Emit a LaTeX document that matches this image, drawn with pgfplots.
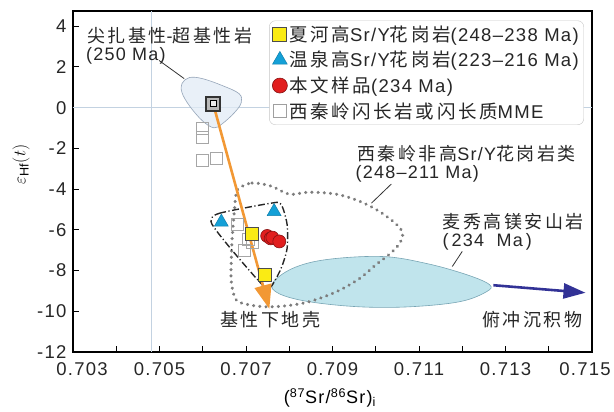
\documentclass[border=0pt]{standalone}
\usepackage{fontspec}
\setmainfont{Liberation Sans}[LetterSpace=7]
\newfontfamily\cjk{Noto Sans CJK SC}[LetterSpace=14]
\usepackage{pgfplots}
\pgfplotsset{compat=1.18}
\usetikzlibrary{arrows.meta}
\newcommand\zh[1]{{\cjk #1}}
\definecolor{myyellow}{RGB}{250,235,20}
\definecolor{myblue}{RGB}{20,160,215}
\definecolor{myred}{RGB}{225,30,30}
\definecolor{refline}{RGB}{195,210,225}
\definecolor{blobfill}{RGB}{225,235,245}
\definecolor{blobdraw}{RGB}{150,165,185}
\definecolor{mxfill}{RGB}{192,228,236}
\definecolor{mxdraw}{RGB}{120,165,180}
\definecolor{myorange}{RGB}{242,152,52}
\definecolor{navyarrow}{RGB}{50,50,150}
\definecolor{dotgray}{RGB}{125,125,125}
\begin{document}
\begin{tikzpicture}
\path[use as bounding box] (-73pt,-60pt) rectangle (541pt,352pt);
\begin{axis}[at={(0,0)}, anchor=south west, scale only axis,
  width=519pt, height=341pt,
  xmin=0.703, xmax=0.715, ymin=-12, ymax=4.75,
  clip=false,
  xtick={0.703,0.704,0.705,0.706,0.707,0.708,0.709,0.710,0.711,0.712,0.713,0.714,0.715},
  xticklabels={\kern18pt 0.703,,0.705,,0.707,,0.709,,0.711,,0.713,,0.715\kern14pt\relax},
  ytick={-12,-10,-8,-6,-4,-2,0,2,4},
  yticklabels={-12,-10,-8,-6,-4,-2,0,2,4},
  xtick pos=bottom, ytick pos=left,
  tick align=inside, major tick length=6pt,
  tick style={black, line width=1pt},
  axis line style={line width=1.6pt},
  ticklabel style={font=\fontsize{18.5}{20}\selectfont, text=black!85},
  xticklabel style={yshift=-7pt},
  yticklabel style={xshift=-3pt},
  xlabel={(\textsuperscript{87}Sr/\textsuperscript{86}Sr)\textsubscript{i}},
  ylabel={$\varepsilon_{\mathrm{Hf}}(t)$},
  xlabel style={font=\fontsize{18}{20}\selectfont, at={(axis description cs:0.495,-0.135)}, anchor=center},
  ylabel style={font=\fontsize{18}{20}\selectfont, at={(axis description cs:-0.10,0.55)}, anchor=center},
  legend style={at={(0.378,0.972)}, anchor=north west, draw=gray!45, rounded corners=6pt,
    font=\fontsize{18.5}{21}\selectfont, row sep=4.5pt, inner sep=3pt, fill=white, text=black!85},
  legend cell align=left,
]
% legend images
\addlegendimage{only marks, mark=square*, mark size=7pt, mark options={fill=myyellow, draw=gray!60!black, line width=0.8pt}}
\addlegendentry{\zh{夏河高}Sr/Y\zh{花岗岩}(248–238 Ma)}
\addlegendimage{only marks, mark=triangle*, mark size=8.5pt, mark options={fill=myblue, draw=myblue!80!black, line width=0.5pt}}
\addlegendentry{\zh{温泉高}Sr/Y\zh{花岗岩}(223–216 Ma)}
\addlegendimage{only marks, mark=*, mark size=7.5pt, mark options={fill=myred, draw=myred!60!black, line width=0.6pt}}
\addlegendentry{\zh{本文样品}(234 Ma)}
\addlegendimage{only marks, mark=square, mark size=6.5pt, mark options={draw=gray!75, line width=0.8pt}}
\addlegendentry{\zh{西秦岭闪长岩或闪长质}MME}

% reference lines
\addplot[refline, line width=0.8pt, forget plot] coordinates {(0.70481,-12) (0.70481,4.75)};
\addplot[refline, line width=0.8pt, forget plot] coordinates {(0.703,0) (0.715,0)};

% Maixiu high-Mg andesite field
\addplot[smooth cycle, tension=0.6, fill=mxfill, draw=mxdraw, line width=0.6pt, forget plot] coordinates {
 (0.70761,-8.64) (0.70807,-7.90) (0.70886,-7.46) (0.71015,-7.31) (0.71117,-7.65)
 (0.71210,-8.20) (0.71263,-8.69) (0.71256,-9.04) (0.71194,-9.53) (0.71078,-9.78)
 (0.70962,-9.78) (0.70846,-9.53) (0.70777,-9.14)};

% Jianzha field
\addplot[smooth cycle, tension=0.6, fill=blobfill, fill opacity=0.75, draw=blobdraw, line width=0.6pt, forget plot] coordinates {
 (0.70552,1.19) (0.70569,1.48) (0.70599,1.43) (0.70645,1.09) (0.70684,0.69)
 (0.70689,0.25) (0.70673,-0.25) (0.70645,-0.79) (0.70626,-0.99) (0.70599,-0.64)
 (0.70569,0.10) (0.70552,0.74)};

% dotted: West Qinling non-high Sr/Y granitoids
\addplot[smooth cycle, tension=0.55, draw=dotgray, line width=3.4pt, line cap=round, dash pattern=on 0.01pt off 6.2pt, forget plot] coordinates {
 (0.70684,-3.95) (0.70714,-3.70) (0.70758,-3.85) (0.70800,-4.25) (0.70846,-4.15)
 (0.70909,-4.25) (0.70962,-4.59) (0.71008,-5.09) (0.71048,-5.73) (0.71062,-6.17)
 (0.71055,-6.67) (0.71031,-7.21) (0.71001,-7.70) (0.70962,-8.40) (0.70909,-9.04)
 (0.70846,-9.53) (0.70793,-9.73) (0.70747,-9.78) (0.70707,-9.68) (0.70677,-9.43)
 (0.70666,-8.54) (0.70666,-7.56) (0.70668,-6.42) (0.70673,-5.09) (0.70677,-4.25)};

% dash-dot: high Sr/Y field
\addplot[smooth cycle, tension=0.45, draw=black!85, line width=1.4pt, dash pattern=on 7pt off 2.5pt on 1.2pt off 2.5pt, forget plot] coordinates {
 (0.70619,-5.58) (0.70638,-5.19) (0.70758,-4.69) (0.70781,-4.74) (0.70795,-5.73)
 (0.70795,-6.91) (0.70781,-7.90) (0.70758,-8.79) (0.70742,-8.79) (0.70684,-7.41)
 (0.70638,-6.22)};

% leader lines
\addplot[black!80, line width=0.8pt, forget plot] coordinates {(0.70499,2.32) (0.70557,1.43)};
\addplot[black!80, line width=0.8pt, forget plot] coordinates {(0.71036,-3.75) (0.70990,-4.69)};
\addplot[black!80, line width=0.8pt, forget plot] coordinates {(0.71200,-7.06) (0.71177,-7.80)};

% arrows
\addplot[myorange, line width=2.6pt, -{Triangle[length=24pt,width=17pt]}, forget plot] coordinates {(0.70624,0.2) (0.70754,-9.88)};
\addplot[navyarrow, line width=2.6pt, -{Triangle[length=22pt,width=15pt]}, forget plot] coordinates {(0.71272,-8.72) (0.71485,-9.09)};

% West Qinling diorite / MME
\addplot[only marks, mark=square, mark size=6pt, mark options={draw=gray!70, line width=0.8pt}, forget plot] coordinates {
 (0.70599,-1.04) (0.70599,-1.48) (0.70599,-2.57) (0.70631,-2.47)
 (0.70680,-5.73) (0.70705,-6.47) (0.70714,-6.60) (0.70696,-7.00)};

% Xiahe
\addplot[only marks, mark=square*, mark size=6.5pt, mark options={fill=myyellow, draw=gray!60!black, line width=0.8pt}, forget plot] coordinates {
 (0.70714,-6.22) (0.70744,-8.20)};

% Wenquan
\addplot[only marks, mark=triangle*, mark size=8pt, mark options={fill=myblue, draw=myblue!80!black, line width=0.5pt}, forget plot] coordinates {
 (0.70643,-5.62) (0.70765,-5.10)};

% this study
\addplot[only marks, mark=*, mark size=6.5pt, mark options={fill=myred, draw=myred!60!black, line width=0.6pt}, forget plot] coordinates {
 (0.70749,-6.30) (0.70757,-6.42) (0.70761,-6.38) (0.70777,-6.57)};

% Jianzha mafic-ultramafic
\addplot[only marks, mark=square*, mark size=7pt, mark options={fill=gray!55, draw=black!80, line width=2pt}, forget plot] coordinates {(0.70624,0.2)};
\addplot[only marks, mark=square*, mark size=3pt, mark options={fill=gray!15, draw=none}, forget plot] coordinates {(0.70624,0.2)};

% annotations
\node[anchor=west, font=\fontsize{18}{20}\selectfont, text=black!85, inner sep=0pt] at (axis cs:0.70332,3.56) {\zh{尖扎基性}-\zh{超基性岩}};
\node[anchor=west, font=\fontsize{18}{20}\selectfont, text=black!85, inner sep=0pt] at (axis cs:0.70330,2.57) {(250 Ma)};
\node[anchor=west, font=\fontsize{18}{20}\selectfont, text=black!85, inner sep=0pt] at (axis cs:0.70957,-2.27) {\zh{西秦岭非高}Sr/Y\zh{花岗岩类}};
\node[anchor=west, font=\fontsize{18}{20}\selectfont, text=black!85, inner sep=0pt] at (axis cs:0.70953,-3.26) {(248–211 Ma)};
\node[anchor=west, font=\fontsize{18}{20}\selectfont, text=black!85, inner sep=0pt] at (axis cs:0.71154,-5.58) {\zh{麦秀高镁安山岩}};
\node[anchor=west, font=\fontsize{18}{20}\selectfont, text=black!85, inner sep=0pt] at (axis cs:0.71154,-6.57) {(\,234\ \ Ma\,)};
\node[anchor=center, font=\fontsize{18}{20}\selectfont, text=black!85, inner sep=0pt] at (axis cs:0.70756,-10.42) {\zh{基性下地壳}};
\node[anchor=center, font=\fontsize{18}{20}\selectfont, text=black!85, inner sep=0pt] at (axis cs:0.71362,-10.42) {\zh{俯冲沉积物}};
\end{axis}
\end{tikzpicture}
\end{document}
